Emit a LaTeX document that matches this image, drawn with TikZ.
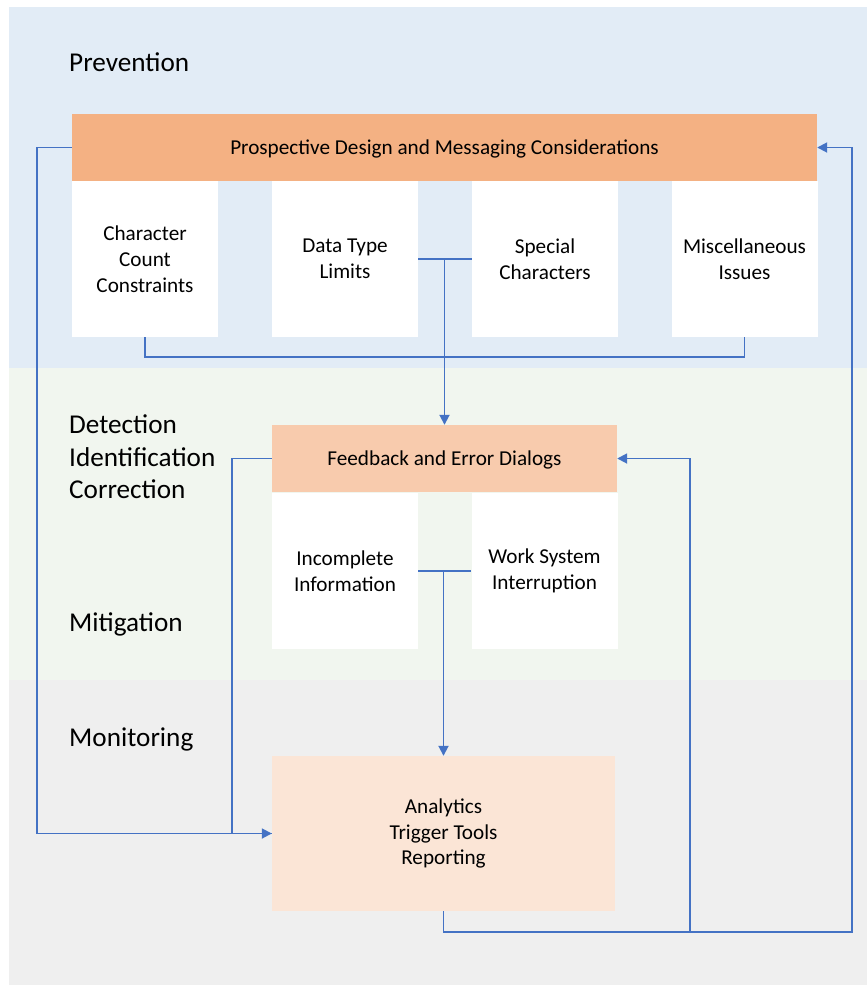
\documentclass[tikz,border=0pt]{standalone}
\usepackage{fontspec}
\setmainfont{Carlito}
\usetikzlibrary{arrows.meta}
\definecolor{bandblue}{HTML}{E2ECF6}
\definecolor{bandgreen}{HTML}{F1F6EF}
\definecolor{bandgray}{HTML}{EFEFEF}
\definecolor{boxdark}{HTML}{F4B183}
\definecolor{boxmid}{HTML}{F8CBAD}
\definecolor{boxlight}{HTML}{FBE5D6}
\definecolor{flowblue}{HTML}{4472C4}
\newcommand\BoxFont{\fontsize{21.2}{25.8}\selectfont}
\newcommand\BandFont{\fontsize{27.2}{32.6}\selectfont}

\begin{document}
\begin{tikzpicture}[x=1pt,y=-1pt,
  bandlabel/.style={anchor=west,inner sep=0pt,align=left,font=\BandFont},
  headbox/.style={minimum height=67pt,inner sep=0pt,text height=13.6pt,text depth=0pt,font=\BoxFont},
  subbox/.style={fill=white,minimum width=146pt,minimum height=156pt,inner sep=0pt,align=center,font=\BoxFont},
  flow/.style={color=flowblue,line width=1.8pt},
  tip/.style={-{Triangle[length=10pt,width=10pt]}}]
\useasboundingbox (0,0) rectangle (867,986);
% Drawing bands
\fill[bandblue] (8.5,7) rectangle (867,368);
\fill[bandgreen] (8.5,368) rectangle (867,680);
\fill[bandgray] (8.5,680) rectangle (867,985);
\node[bandlabel] (prev) at (69,62) {Prevention};
\node[bandlabel] (detc) at (69,457) {Detection\\Identification\\Correction};
\node[bandlabel] (miti) at (69,624) {Mitigation};
\node[bandlabel] (moni) at (69,739) {Monitoring};
% Done with bands; drawing boxes
% Prevention
\node[headbox,fill=boxdark,minimum width=745pt] (pdm) at (444.5,147.5) {Prospective Design and Messaging Considerations};
\node[subbox] (ccc) at (145,259) {Character\\Count\\Constraints};
\node[subbox] (dtl) at (345,259) {Data Type\\Limits};
\node[subbox] (spc) at (545,259) {Special\\Characters};
\node[subbox] (misc) at (744.5,259) {Miscellaneous\\Issues};
% Detection and mitigation
\node[headbox,fill=boxmid,minimum width=345pt] (fed) at (444.5,458.5) {Feedback and Error Dialogs};
\node[subbox] (inc) at (345,571) {Incomplete\\Information};
\node[subbox] (wsi) at (544.5,571) {Work System\\Interruption};
% Monitoring
\node[fill=boxlight,minimum width=343pt,minimum height=155pt,inner sep=0pt,align=center,font=\BoxFont] (ana) at (443.5,833.5) {Analytics\\Trigger Tools\\Reporting};
% Done with boxes; drawing connectors
\coordinate (bus) at (444.5,357);
\coordinate (rbus) at (852,932);
\coordinate (mbus) at (690,932);
\draw[flow] (ccc.south) -- (ccc.south |- bus) -- (misc.south |- bus) -- (misc.south);
\draw[flow] (dtl.east) -- (spc.west);
\draw[flow,tip] (fed.north |- dtl.east) -- (fed.north);
\draw[flow] (inc.east) -- (wsi.west);
\draw[flow,tip] (ana.north |- inc.east) -- (ana.north);
\draw[flow,tip] (pdm.west) -- ++(-35,0) |- (ana.west);
\draw[flow] (fed.west) -- ++(-40,0) |- (ana.west);
\draw[flow,tip] (ana.south) |- (rbus) |- (pdm.east);
\draw[flow,tip] (mbus) |- (fed.east);
% Done with connectors
\end{tikzpicture}
\end{document}
